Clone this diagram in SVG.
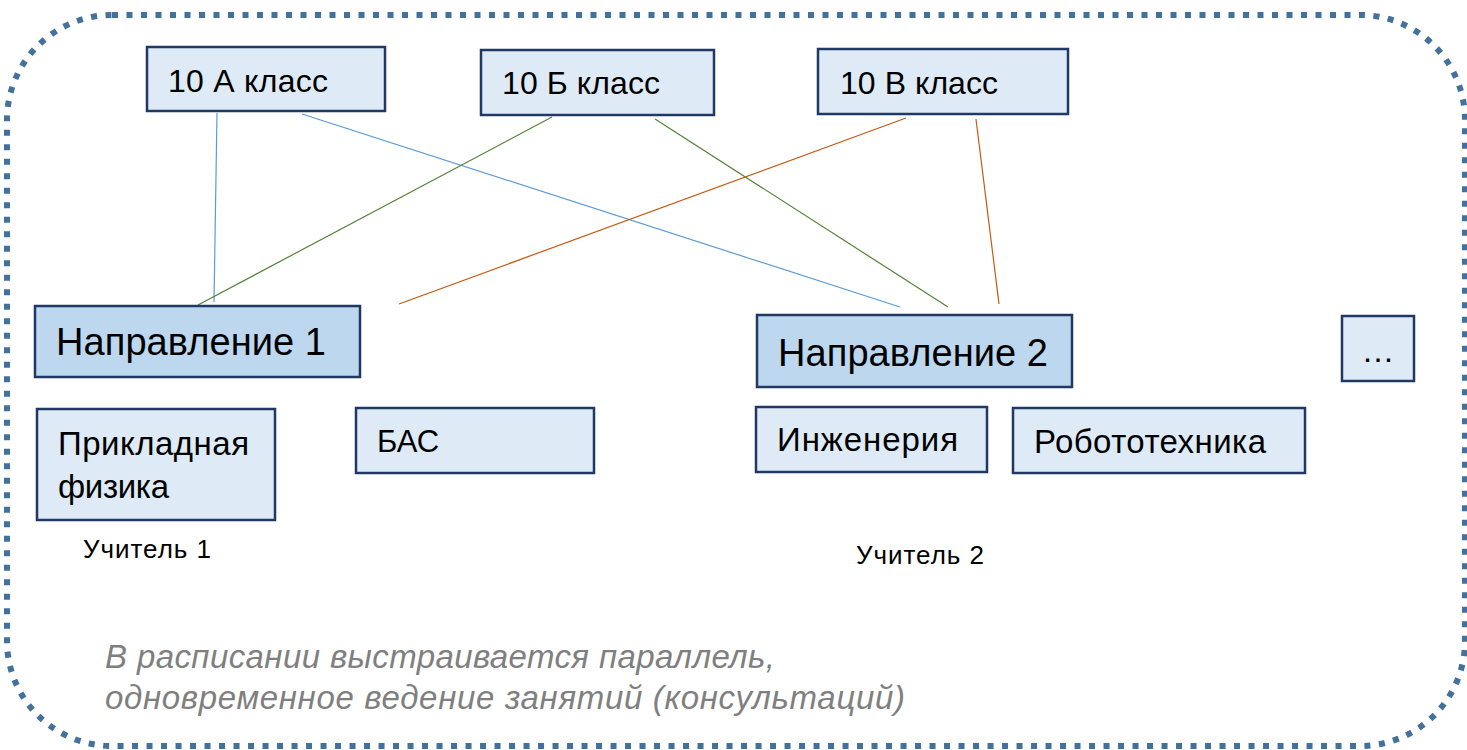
<svg xmlns="http://www.w3.org/2000/svg" width="1467" height="750" viewBox="0 0 1467 750">
<style>
.frame{fill:none;stroke:#41719C;stroke-width:6;stroke-dasharray:6 8.5}
.box{fill:#DEEBF7;stroke:#1F3864;stroke-width:2.5}
.dir{fill:#BDD7EE;stroke:#1F3864;stroke-width:2.5}
.t{font-family:"Liberation Sans",Arial,sans-serif;fill:#000}
.cls{font-size:32px}
.dt{font-size:38px}
.st{font-size:33px}
.tch{font-size:26px}
.note{font-family:"Liberation Sans",Arial,sans-serif;font-style:italic;font-size:33px;fill:#7F7F7F}
.c{fill:none;stroke-width:1.2}
.blue{stroke:#5B9BD5}
.green{stroke:#548235}
.orange{stroke:#C55A11}
</style>
<rect class="frame" x="7" y="15" width="1458" height="731" rx="105" ry="105"/>
<g id="connectors">
<line class="c blue" x1="217" y1="113" x2="214" y2="302"/>
<line class="c blue" x1="302" y1="114" x2="900" y2="307"/>
<line class="c green" x1="552" y1="117" x2="198" y2="305"/>
<line class="c green" x1="655" y1="119" x2="948" y2="307"/>
<line class="c orange" x1="906" y1="118" x2="399" y2="304"/>
<line class="c orange" x1="976" y1="119" x2="999" y2="304"/>
</g>
<g id="class10A"><rect class="box" x="147" y="47" width="238" height="64"/><text class="t cls" x="168" y="92" textLength="160">10 А класс</text></g>
<g id="class10B"><rect class="box" x="481" y="50" width="233" height="65"/><text class="t cls" x="502" y="94" textLength="158">10 Б класс</text></g>
<g id="class10V"><rect class="box" x="818" y="49" width="250" height="65"/><text class="t cls" x="840" y="94" textLength="158">10 В класс</text></g>
<g id="dir1"><rect class="dir" x="35" y="306" width="325" height="71"/><text class="t dt" x="56" y="355" textLength="270">Направление 1</text></g>
<g id="dir2"><rect class="dir" x="757" y="315" width="315" height="72"/><text class="t dt" x="778" y="366" textLength="270">Направление 2</text></g>
<g id="more"><rect class="box" x="1342" y="316" width="72" height="65"/><text class="t st" x="1378" y="362" text-anchor="middle">…</text></g>
<g id="physics"><rect class="box" x="37" y="409" width="238" height="111"/><text class="t st" x="58" y="455" textLength="191">Прикладная</text><text class="t st" x="58" y="498" textLength="111">физика</text></g>
<g id="bas"><rect class="box" x="356" y="408" width="238" height="65"/><text class="t" x="377" y="452" font-size="31">БАС</text></g>
<g id="engineering"><rect class="box" x="756" y="407" width="231" height="65"/><text class="t st" x="777" y="451" textLength="181">Инженерия</text></g>
<g id="robotics"><rect class="box" x="1013" y="408" width="292" height="65"/><text class="t st" x="1034" y="453" textLength="232">Робототехника</text></g>
<g id="teacher1"><text class="t tch" x="83" y="558" textLength="128">Учитель 1</text></g>
<g id="teacher2"><text class="t tch" x="856" y="564" textLength="128">Учитель 2</text></g>
<g id="note"><text class="note" x="105" y="668" textLength="670">В расписании выстраивается параллель,</text><text class="note" x="105" y="709" textLength="800">одновременное ведение занятий (консультаций)</text></g>
</svg>
